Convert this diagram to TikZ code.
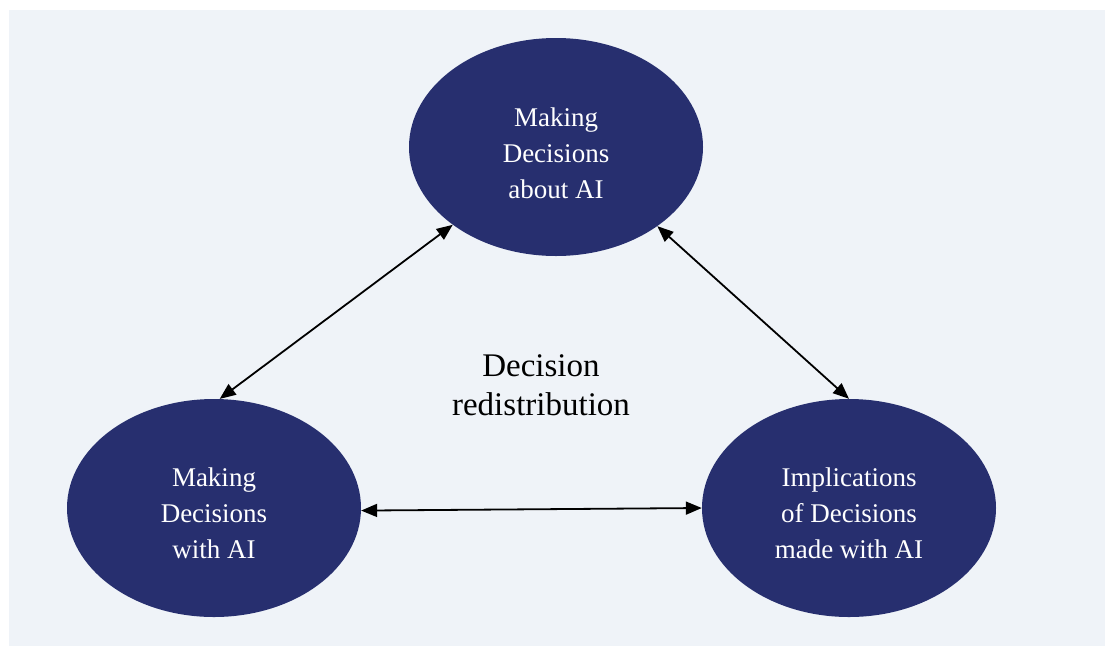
\documentclass[tikz,border=0pt]{standalone}
\usepackage{fontspec}
\setmainfont{Liberation Serif}
\usetikzlibrary{shapes.geometric,arrows.meta}
\definecolor{bg}{HTML}{EFF3F8}
\definecolor{navy}{HTML}{272F6F}
\begin{document}
\begin{tikzpicture}[x=1pt,y=-1pt,
  bubble/.style={ellipse,fill=navy,draw=none,minimum width=294pt,minimum height=218pt,inner sep=0pt},
  btext/.style={text=white,align=center,inner sep=0pt,font=\fontsize{27}{36}\selectfont},
  link/.style={{Triangle[length=16pt,width=13pt]}-{Triangle[length=16pt,width=13pt]},line width=1.8pt}]
\fill[white] (0,0) rectangle (1105,646);
\useasboundingbox (0,0) rectangle (1105,646);
\fill[bg] (9,10) rectangle (1105,646);
\node[bubble] (top) at (556,147) {};
\node[bubble] (left) at (214,508) {};
\node[bubble] (right) at (849,508) {};
\node[btext] (topt) at ([yshift=-6pt]top.center) {Making\\Decisions\\about AI};
\node[btext] (leftt) at ([yshift=-5pt]left.center) {Making\\Decisions\\with AI};
\node[btext] (rightt) at ([yshift=-5pt]right.center) {Implications\\of Decisions\\made with AI};
\node[font=\fontsize{33}{39}\selectfont,align=center] (mid) at (541,385) {Decision\\redistribution};
\draw[link] (left.87) -- (top.217);
\draw[link] (top.322) -- (right.90.5);
\draw[link] (left.-1.5) -- (right.180.4);
\end{tikzpicture}
\end{document}
